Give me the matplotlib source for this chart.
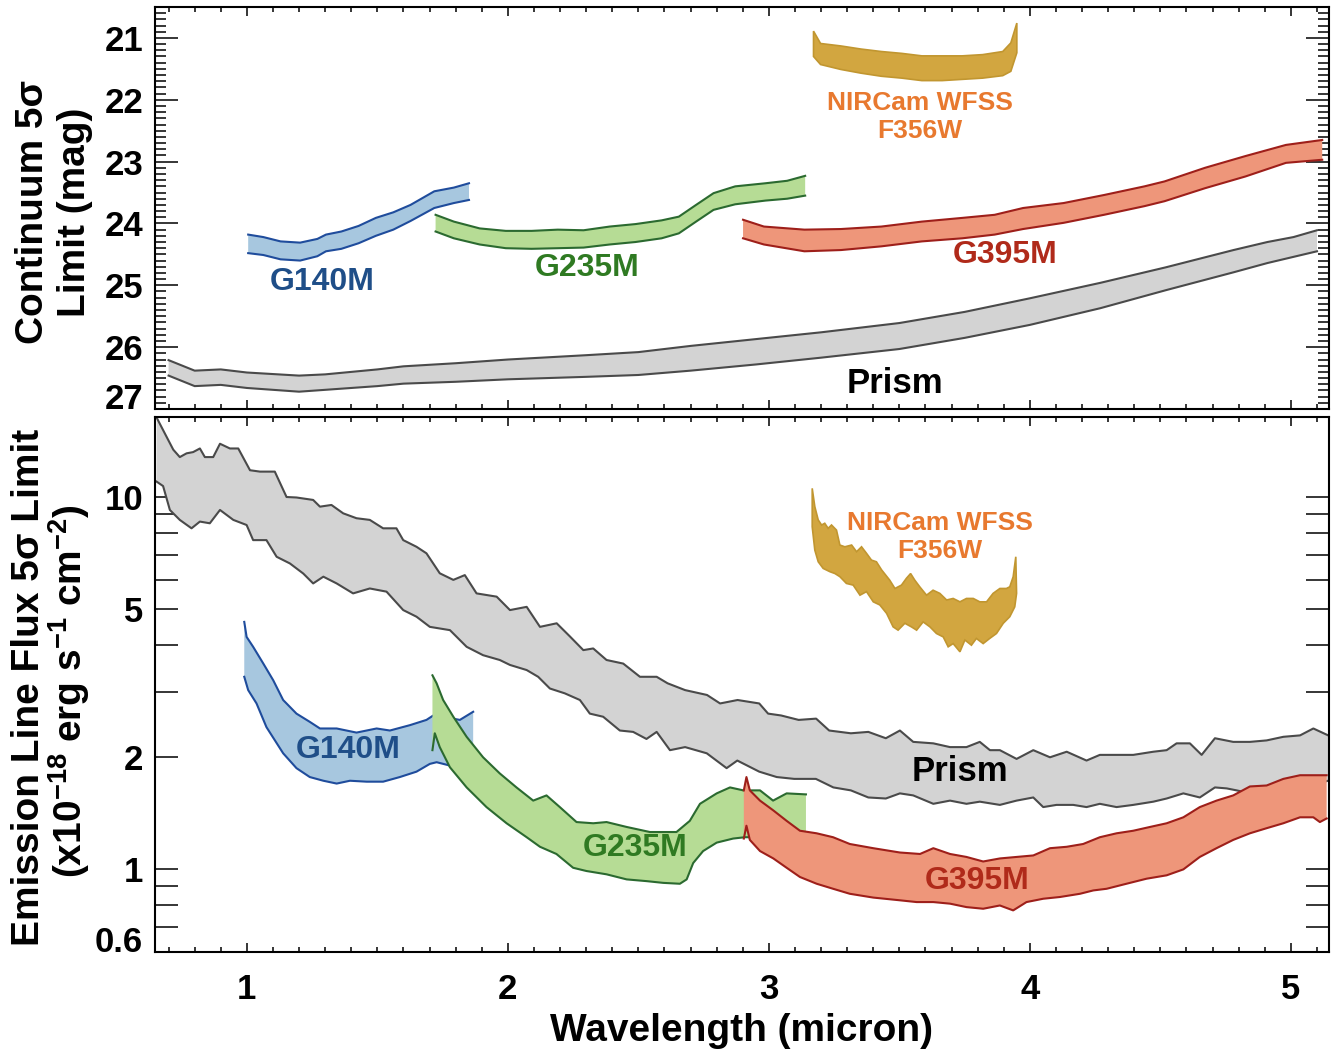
import matplotlib
matplotlib.use("Agg")
import matplotlib.pyplot as plt
from matplotlib.ticker import MultipleLocator, FixedLocator, NullFormatter

plt.rcParams['font.family'] = ['Liberation Sans', 'DejaVu Sans']
plt.rcParams['font.weight'] = 'bold'
plt.rcParams['mathtext.default'] = 'regular'

# ---------------- top panel: continuum 5 sigma limit (mag) ----------------
prism_top_w = [0.70, 0.80, 0.90, 1.00, 1.20, 1.30, 1.50, 1.60, 1.80, 2.00, 2.30, 2.50,
               2.70, 2.95, 3.20, 3.50, 3.75, 4.00, 4.27, 4.52, 4.78, 4.91, 5.01, 5.10]
prism_top_a = [26.21, 26.38, 26.36, 26.41, 26.46, 26.44, 26.36, 26.31, 26.26, 26.20, 26.13, 26.08,
               25.98, 25.87, 25.76, 25.61, 25.43, 25.21, 24.96, 24.71, 24.43, 24.30, 24.22, 24.11]
prism_top_b = [26.46, 26.63, 26.61, 26.66, 26.72, 26.69, 26.63, 26.59, 26.56, 26.52, 26.48, 26.45,
               26.38, 26.28, 26.17, 26.03, 25.85, 25.64, 25.37, 25.08, 24.79, 24.64, 24.54, 24.45]

g140_top_w = [1.005, 1.063, 1.129, 1.204, 1.270, 1.303, 1.362, 1.428, 1.494, 1.561, 1.627, 1.718, 1.793, 1.851]
g140_top_a = [24.18, 24.22, 24.29, 24.31, 24.25, 24.18, 24.13, 24.04, 23.91, 23.82, 23.70, 23.48, 23.42, 23.35]
g140_top_b = [24.48, 24.51, 24.58, 24.60, 24.53, 24.45, 24.41, 24.32, 24.20, 24.10, 23.96, 23.75, 23.67, 23.62]

g235_top_w = [1.723, 1.793, 1.892, 1.992, 2.091, 2.191, 2.290, 2.390, 2.489, 2.589, 2.655, 2.721,
              2.788, 2.871, 2.987, 3.070, 3.139]
g235_top_a = [23.86, 23.97, 24.08, 24.12, 24.12, 24.10, 24.11, 24.05, 24.01, 23.95, 23.89, 23.70,
              23.51, 23.40, 23.35, 23.31, 23.23]
g235_top_b = [24.13, 24.24, 24.34, 24.40, 24.41, 24.40, 24.39, 24.34, 24.30, 24.24, 24.16, 23.97,
              23.78, 23.69, 23.63, 23.60, 23.55]

g395_top_w = [2.901, 2.981, 3.136, 3.276, 3.431, 3.586, 3.741, 3.865, 3.974, 4.129, 4.284, 4.439,
              4.516, 4.671, 4.826, 4.981, 5.120]
g395_top_a = [23.94, 24.05, 24.10, 24.09, 24.05, 23.97, 23.91, 23.86, 23.75, 23.67, 23.54, 23.40,
              23.32, 23.10, 22.91, 22.73, 22.65]
g395_top_b = [24.24, 24.34, 24.45, 24.43, 24.37, 24.29, 24.24, 24.18, 24.09, 23.99, 23.86, 23.72,
              23.64, 23.43, 23.24, 23.02, 22.97]

nircam_top_w = [3.171, 3.198, 3.276, 3.353, 3.431, 3.509, 3.586, 3.664, 3.741, 3.819, 3.896, 3.927, 3.950]
nircam_top_a = [20.89, 21.09, 21.13, 21.18, 21.22, 21.25, 21.29, 21.29, 21.29, 21.27, 21.22, 21.08, 20.76]
nircam_top_b = [21.30, 21.43, 21.51, 21.57, 21.62, 21.65, 21.69, 21.69, 21.67, 21.65, 21.61, 21.54, 21.24]

# ---------------- bottom panel: emission line flux limit ----------------
prism_hi_w = [0.655, 0.686, 0.718, 0.743, 0.769, 0.794, 0.820, 0.839, 0.871, 0.897, 0.935, 0.967,
              1.012, 1.050, 1.107, 1.152, 1.190, 1.254, 1.280, 1.324, 1.369, 1.420, 1.471, 1.522,
              1.573, 1.599, 1.650, 1.688, 1.739, 1.791, 1.835, 1.880, 1.957, 2.008, 2.072, 2.123,
              2.187, 2.238, 2.289, 2.327, 2.378, 2.442, 2.506, 2.570, 2.612, 2.679, 2.763, 2.813,
              2.880, 2.963, 2.997, 3.047, 3.114, 3.181, 3.231, 3.314, 3.381, 3.448, 3.502, 3.553,
              3.630, 3.694, 3.757, 3.808, 3.847, 3.885, 3.949, 4.013, 4.077, 4.141, 4.217, 4.268,
              4.332, 4.396, 4.473, 4.524, 4.562, 4.613, 4.658, 4.709, 4.779, 4.843, 4.907, 4.971,
              5.035, 5.086, 5.143]
prism_hi_f = [16.3, 14.8, 13.4, 12.8, 13.1, 13.2, 13.5, 12.8, 12.8, 13.9, 13.5, 13.5,
              11.8, 11.7, 11.7, 10.0, 9.97, 9.82, 9.42, 9.52, 9.04, 8.77, 8.68, 8.24,
              8.24, 7.66, 7.35, 7.06, 6.24, 5.99, 6.17, 5.51, 5.40, 4.97, 5.07, 4.48,
              4.58, 4.22, 3.88, 3.92, 3.65, 3.57, 3.29, 3.29, 3.16, 3.03, 2.94, 2.79,
              2.85, 2.79, 2.62, 2.59, 2.52, 2.54, 2.36, 2.32, 2.34, 2.25, 2.36, 2.20,
              2.18, 2.13, 2.13, 2.20, 2.09, 2.09, 1.98, 2.09, 2.00, 2.07, 1.96, 2.03,
              2.03, 2.03, 2.07, 2.09, 2.18, 2.18, 2.03, 2.25, 2.20, 2.20, 2.22, 2.27,
              2.29, 2.39, 2.29]
prism_lo_w = [0.654, 0.679, 0.705, 0.743, 0.788, 0.820, 0.858, 0.897, 0.948, 0.999, 1.024, 1.075,
              1.114, 1.165, 1.216, 1.254, 1.293, 1.344, 1.407, 1.471, 1.535, 1.599, 1.650, 1.701,
              1.778, 1.842, 1.905, 1.969, 2.008, 2.072, 2.116, 2.161, 2.218, 2.276, 2.314, 2.365,
              2.429, 2.480, 2.531, 2.570, 2.621, 2.679, 2.762, 2.838, 2.879, 2.963, 3.030, 3.097,
              3.180, 3.247, 3.314, 3.381, 3.448, 3.502, 3.553, 3.630, 3.694, 3.757, 3.808, 3.885,
              3.949, 4.013, 4.051, 4.102, 4.166, 4.217, 4.268, 4.332, 4.396, 4.473, 4.524, 4.588,
              4.651, 4.709, 4.754, 4.792, 4.843, 4.907, 4.971, 5.035, 5.099, 5.143]
prism_lo_f = [11.0, 10.7, 9.23, 8.68, 8.24, 8.59, 8.50, 9.23, 8.68, 8.41, 7.66, 7.66,
              6.91, 6.63, 6.23, 5.86, 6.11, 5.86, 5.51, 5.68, 5.57, 4.97, 4.77, 4.48,
              4.39, 3.96, 3.76, 3.65, 3.54, 3.43, 3.29, 3.06, 2.97, 2.85, 2.62, 2.57,
              2.36, 2.34, 2.24, 2.34, 2.09, 2.13, 2.05, 1.87, 1.96, 1.83, 1.77, 1.75,
              1.75, 1.66, 1.63, 1.56, 1.55, 1.60, 1.58, 1.50, 1.53, 1.50, 1.52, 1.49,
              1.53, 1.56, 1.47, 1.49, 1.49, 1.47, 1.50, 1.47, 1.49, 1.52, 1.55, 1.60,
              1.56, 1.66, 1.65, 1.63, 1.60, 1.63, 1.63, 1.65, 1.70, 1.73]

g140_hi_w = [0.990, 0.999, 1.024, 1.063, 1.101, 1.139, 1.190, 1.241, 1.280, 1.344, 1.420, 1.497,
             1.548, 1.625, 1.688, 1.714, 1.752, 1.816, 1.867]
g140_hi_f = [4.62, 4.21, 3.96, 3.57, 3.22, 2.85, 2.62, 2.49, 2.39, 2.39, 2.33, 2.39,
             2.36, 2.44, 2.52, 2.59, 2.57, 2.52, 2.65]
g140_lo_w = [0.990, 1.005, 1.037, 1.075, 1.139, 1.190, 1.241, 1.293, 1.344, 1.395, 1.459, 1.522,
             1.586, 1.650, 1.701, 1.727, 1.778, 1.867]
g140_lo_f = [3.29, 3.03, 2.79, 2.41, 2.05, 1.87, 1.77, 1.73, 1.70, 1.73, 1.72, 1.72,
             1.77, 1.83, 1.92, 1.94, 1.90, 1.88]

g235_hi_w = [1.711, 1.727, 1.752, 1.791, 1.842, 1.905, 1.969, 2.033, 2.097, 2.148, 2.199, 2.263,
             2.327, 2.378, 2.455, 2.544, 2.646, 2.697, 2.736, 2.800, 2.851, 2.902, 2.966, 3.016,
             3.068, 3.142]
g235_hi_f = [3.32, 3.16, 2.85, 2.57, 2.27, 2.00, 1.81, 1.66, 1.53, 1.58, 1.47, 1.34,
             1.33, 1.34, 1.30, 1.26, 1.26, 1.35, 1.50, 1.60, 1.66, 1.63, 1.63, 1.53,
             1.60, 1.59]
g235_lo_w = [1.711, 1.720, 1.739, 1.778, 1.842, 1.918, 1.995, 2.072, 2.123, 2.186, 2.250, 2.301,
             2.378, 2.455, 2.531, 2.595, 2.659, 2.685, 2.710, 2.748, 2.800, 2.863, 2.908, 3.142]
g235_lo_f = [2.09, 2.32, 2.13, 1.88, 1.66, 1.47, 1.33, 1.22, 1.15, 1.10, 1.01, 0.99,
             0.97, 0.94, 0.93, 0.92, 0.915, 0.94, 1.04, 1.12, 1.18, 1.21, 1.22, 1.22]

g395_hi_w = [2.904, 2.914, 2.927, 2.966, 3.017, 3.068, 3.119, 3.183, 3.246, 3.310, 3.400, 3.502,
             3.579, 3.630, 3.694, 3.757, 3.821, 3.885, 3.949, 4.013, 4.077, 4.141, 4.204, 4.268,
             4.332, 4.396, 4.460, 4.524, 4.588, 4.651, 4.715, 4.779, 4.843, 4.907, 4.971, 5.035,
             5.086, 5.137]
g395_hi_f = [1.63, 1.77, 1.63, 1.53, 1.44, 1.35, 1.27, 1.25, 1.22, 1.17, 1.14, 1.11,
             1.10, 1.14, 1.10, 1.08, 1.05, 1.07, 1.08, 1.09, 1.14, 1.15, 1.17, 1.22,
             1.25, 1.27, 1.30, 1.33, 1.38, 1.47, 1.53, 1.58, 1.67, 1.68, 1.75, 1.79,
             1.79, 1.79]
g395_lo_w = [2.904, 2.914, 2.927, 2.966, 3.017, 3.068, 3.119, 3.183, 3.246, 3.310, 3.400, 3.502,
             3.566, 3.630, 3.694, 3.757, 3.821, 3.885, 3.936, 3.987, 4.051, 4.115, 4.192, 4.243,
             4.294, 4.370, 4.447, 4.524, 4.588, 4.651, 4.715, 4.779, 4.843, 4.907, 4.971, 5.035,
             5.086, 5.111, 5.137]
g395_lo_f = [1.21, 1.31, 1.20, 1.12, 1.07, 1.01, 0.954, 0.915, 0.887, 0.860, 0.84, 0.826,
             0.817, 0.817, 0.809, 0.792, 0.784, 0.800, 0.776, 0.817, 0.834, 0.843, 0.860, 0.878,
             0.887, 0.915, 0.944, 0.964, 1.00, 1.08, 1.14, 1.20, 1.25, 1.29, 1.33, 1.38,
             1.38, 1.34, 1.37]

nircam_hi_w = [3.166, 3.176, 3.189, 3.202, 3.214, 3.227, 3.240, 3.259, 3.272, 3.291, 3.317, 3.336,
               3.355, 3.374, 3.393, 3.412, 3.432, 3.463, 3.483, 3.508, 3.527, 3.543, 3.559, 3.578,
               3.604, 3.629, 3.655, 3.681, 3.706, 3.732, 3.757, 3.783, 3.808, 3.834, 3.859, 3.885,
               3.910, 3.923, 3.936, 3.946]
nircam_hi_f = [10.55, 9.42, 8.68, 8.41, 8.50, 8.24, 8.41, 8.15, 7.43, 7.35, 7.43, 7.13,
               7.35, 7.06, 6.77, 6.70, 6.37, 5.98, 5.68, 5.80, 6.05, 6.23, 5.98, 5.74,
               5.45, 5.62, 5.51, 5.29, 5.34, 5.23, 5.34, 5.34, 5.23, 5.23, 5.51, 5.68,
               5.68, 5.74, 6.11, 6.91]
nircam_lo_w = [3.166, 3.176, 3.189, 3.208, 3.234, 3.253, 3.272, 3.297, 3.323, 3.349, 3.374, 3.400,
               3.425, 3.451, 3.476, 3.495, 3.521, 3.546, 3.566, 3.591, 3.617, 3.642, 3.668, 3.687,
               3.706, 3.732, 3.751, 3.776, 3.795, 3.821, 3.846, 3.872, 3.898, 3.923, 3.942, 3.949]
nircam_lo_f = [8.32, 7.20, 6.70, 6.43, 6.30, 6.23, 6.11, 5.86, 5.80, 5.45, 5.57, 5.23,
               5.13, 4.87, 4.48, 4.39, 4.58, 4.48, 4.39, 4.62, 4.48, 4.30, 4.21, 3.96,
               4.04, 3.84, 4.13, 4.00, 4.17, 4.04, 4.17, 4.30, 4.58, 4.77, 5.07, 5.51]

# colours (fill, edge, text)
c_prism = ('#d3d3d3', '#4a4a4a', 'black')
c_g140 = ('#a7c7df', '#1f4c9c', '#1f4e88')
c_g235 = ('#b6dc95', '#2b6a30', '#2f7a22')
c_g395 = ('#ee967a', '#9e1f1a', '#b02a1a')
c_nircam = ('#d2a640', '#c19630', '#e8792f')

W, H = 1336, 1050
fig = plt.figure(figsize=(W / 100, H / 100), dpi=100)
ax1 = fig.add_axes([155 / W, 1 - 409 / H, 1174 / W, 402 / H])
ax2 = fig.add_axes([155 / W, 1 - 952 / H, 1174 / W, 535 / H])


def band(ax, wa, ya, wb, yb, col, lw=1.5, outline=False):
    xs = list(wa) + list(wb)[::-1]
    ys = list(ya) + list(yb)[::-1]
    if outline:
        ax.fill(xs, ys, facecolor=col[0], edgecolor=col[1], lw=lw, zorder=2)
    else:
        ax.fill(xs, ys, color=col[0], lw=0, zorder=2)
        ax.plot(wa, ya, color=col[1], lw=lw, zorder=2)
        ax.plot(wb, yb, color=col[1], lw=lw, zorder=2)


# top panel
band(ax1, prism_top_w, prism_top_a, prism_top_w, prism_top_b, c_prism)
band(ax1, g140_top_w, g140_top_a, g140_top_w, g140_top_b, c_g140)
band(ax1, g235_top_w, g235_top_a, g235_top_w, g235_top_b, c_g235)
band(ax1, g395_top_w, g395_top_a, g395_top_w, g395_top_b, c_g395)
band(ax1, nircam_top_w, nircam_top_a, nircam_top_w, nircam_top_b, c_nircam, lw=1.2, outline=True)

# bottom panel
band(ax2, prism_hi_w, prism_hi_f, prism_lo_w, prism_lo_f, c_prism)
band(ax2, g140_hi_w, g140_hi_f, g140_lo_w, g140_lo_f, c_g140)
band(ax2, g235_hi_w, g235_hi_f, g235_lo_w, g235_lo_f, c_g235)
band(ax2, g395_hi_w, g395_hi_f, g395_lo_w, g395_lo_f, c_g395)
band(ax2, nircam_hi_w, nircam_hi_f, nircam_lo_w, nircam_lo_f, c_nircam, lw=1.2, outline=True)

# labels on the bands
ax1.text(1.287, 24.95, 'G140M', color=c_g140[2], fontsize=23, ha='center', va='center')
ax1.text(2.303, 24.72, 'G235M', color=c_g235[2], fontsize=23, ha='center', va='center')
ax1.text(3.904, 24.51, 'G395M', color=c_g395[2], fontsize=23, ha='center', va='center')
ax1.text(3.579, 22.28, 'NIRCam WFSS\nF356W', color=c_nircam[2], fontsize=19,
         ha='center', va='center', linespacing=1.2)
ax1.text(3.483, 26.58, 'Prism', color='black', fontsize=25, ha='center', va='center')

ax2.text(1.387, 2.09, 'G140M', color=c_g140[2], fontsize=23, ha='center', va='center')
ax2.text(2.487, 1.14, 'G235M', color=c_g235[2], fontsize=23, ha='center', va='center')
ax2.text(3.797, 0.928, 'G395M', color=c_g395[2], fontsize=23, ha='center', va='center')
ax2.text(3.655, 7.81, 'NIRCam WFSS\nF356W', color=c_nircam[2], fontsize=19,
         ha='center', va='center', linespacing=1.2)
ax2.text(3.732, 1.83, 'Prism', color='black', fontsize=25, ha='center', va='center')

# axes, ticks
for ax in (ax1, ax2):
    ax.set_xlim(0.648, 5.146)
    ax.xaxis.set_major_locator(FixedLocator([1, 2, 3, 4, 5]))
    ax.xaxis.set_minor_locator(MultipleLocator(0.1))
    ax.tick_params(which='both', direction='in', top=True, right=True, width=1.1, color='black')
    ax.tick_params(axis='x', which='major', length=6.5, pad=15, labelsize=25)
    ax.tick_params(axis='x', which='minor', length=3.6)
    ax.tick_params(axis='y', which='major', length=16.5, pad=8.6, labelsize=25)
    for s in ax.spines.values():
        s.set_linewidth(1.5)

ax1.set_ylim(27.0, 20.5)
ax1.yaxis.set_major_locator(FixedLocator([21, 22, 23, 24, 25, 26, 27]))
ax1.yaxis.set_minor_locator(MultipleLocator(0.1))
ax1.tick_params(axis='y', which='minor', length=7.9)
ax1.xaxis.set_major_formatter(NullFormatter())

ax2.set_yscale('log')
ax2.set_ylim(0.6, 16.4)
ax2.yaxis.set_major_locator(FixedLocator([0.6, 1, 2, 5, 10]))
ax2.set_yticklabels(['0.6', '1', '2', '5', '10'])
ax2.yaxis.set_minor_locator(FixedLocator([0.7, 0.8, 0.9, 3, 4, 6, 7, 8, 9]))
ax2.yaxis.set_minor_formatter(NullFormatter())
ax2.tick_params(axis='y', which='minor', length=16.5)
ax2.set_xticklabels(['1', '2', '3', '4', '5'])

# lowest labels sit on the bottom edge
ax1.yaxis.get_major_ticks()[-1].label1.set_verticalalignment('baseline')
ax2.yaxis.get_major_ticks()[0].label1.set_verticalalignment('baseline')

# axis titles
def vlabel(xpx, ypx, s):
    fig.text(xpx / W, 1 - ypx / H, s, rotation=90, rotation_mode='anchor',
             ha='center', va='baseline', fontsize=28)

vlabel(43, 212, 'Continuum 5σ')
vlabel(85, 212, 'Limit (mag)')
vlabel(39, 687, 'Emission Line Flux 5σ Limit')
vlabel(82, 691, '(x10$^{-18}$ erg s$^{-1}$ cm$^{-2}$)')
fig.text(742 / W, 1 - 1041 / H, 'Wavelength (micron)', ha='center', va='baseline', fontsize=28)

fig.savefig('out.png', dpi=100)
